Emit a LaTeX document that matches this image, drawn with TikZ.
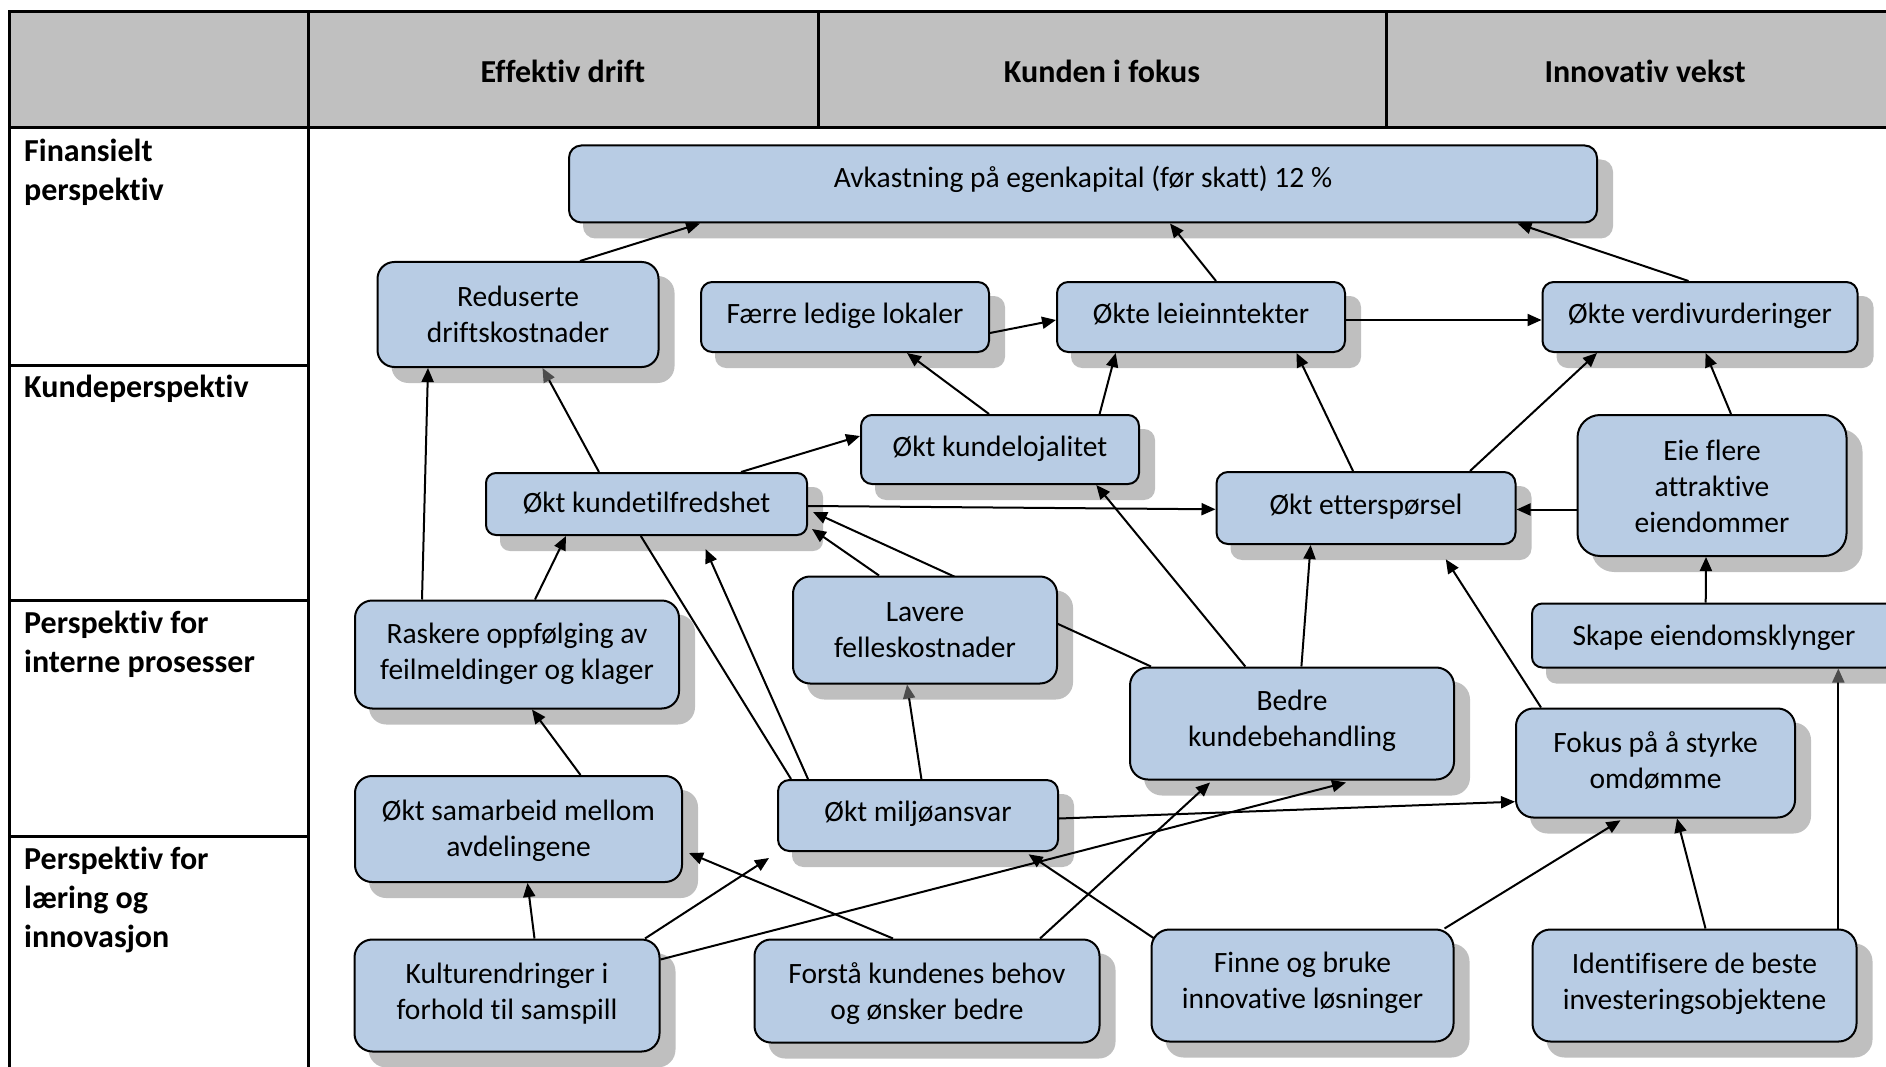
\documentclass[tikz,border=0pt]{standalone}
\usepackage{fontspec}
\setmainfont{Carlito}[Ligatures=NoCommon]
\usetikzlibrary{arrows.meta}

\definecolor{boxfill}{RGB}{184,204,228}
\definecolor{shadowc}{RGB}{191,191,191}
\definecolor{headfill}{RGB}{192,192,192}
\definecolor{tipgray}{RGB}{77,77,77}

\pgfdeclarelayer{background}
\pgfdeclarelayer{shadow}
\pgfdeclarelayer{edges}
\pgfsetlayers{background,shadow,edges,main}

% rounded box with its own offset shadow:
% [text drop], name, x, y, width, height, text
\newcommand\bx[7][0]{%
  \pgfmathsetmacro\rr{0.16*#6}%
  \pgfmathsetmacro\ty{-(#1)}%
  \node[box, minimum width=#5pt, minimum height=#6pt, rounded corners=\rr pt,
    label={[boxtext, yshift=\ty pt]center:{#7}}] (#2) at (#3,#4) {};
  \begin{pgfonlayer}{shadow}
    \fill[shadowc, rounded corners=\rr pt] ([shift={(15,15)}]#2.south west) rectangle ([shift={(15,15)}]#2.north east);
  \end{pgfonlayer}}

\begin{document}
\begin{tikzpicture}[x=1pt,y=-1pt,
  box/.style={draw=black, line width=2pt, fill=boxfill, inner sep=0pt},
  boxtext/.style={align=center, inner sep=0pt, font=\fontsize{29.5}{36}\selectfont,
    execute at begin node=\strut, execute at end node=\strut},
  arr/.style={line width=2pt, -{Triangle[length=14pt,width=12pt]}},
  garr/.style={line width=2pt, -{Triangle[length=14pt,width=12pt,color=tipgray]}},
  plainline/.style={line width=2pt},
  grid/.style={line width=3pt},
  headtxt/.style={font=\fontsize{32}{39}\selectfont\bfseries, inner sep=0pt},
  rowtxt/.style={font=\fontsize{32}{39}\selectfont\bfseries, align=left, anchor=north west, inner sep=0pt}]

\useasboundingbox (0,0) rectangle (1886,1067);

% table frame
\begin{pgfonlayer}{background}
  \fill[headfill] (9,12) rectangle (1904,128);
  \draw[grid] (1904,12) -- (9,12) -- (9,1080);
  \draw[grid] (9,128) -- (1904,128);
  \draw[grid] (308,12) -- (308,1080);
  \draw[grid] (818,12) -- (818,128);
  \draw[grid] (1386,12) -- (1386,128);
  \draw[grid] (9,365) -- (308,365);
  \draw[grid] (9,600) -- (308,600);
  \draw[grid] (9,836) -- (308,836);
\end{pgfonlayer}

% column and row headings
\node[headtxt] (hA) at (563,71) {Effektiv drift};
\node[headtxt] (hB) at (1102,71) {Kunden i fokus};
\node[headtxt] (hC) at (1645,71) {Innovativ vekst};
\node[rowtxt] (r1) at (24,139) {Finansielt\\perspektiv};
\node[rowtxt] (r2) at (24,375) {Kundeperspektiv};
\node[rowtxt] (r3) at (24,611) {Perspektiv for\\interne prosesser};
\node[rowtxt] (r4) at (24,847) {Perspektiv for\\læring og\\innovasjon};

% objectives
\bx[-4]{avk}{1083}{184}{1028}{77}{Avkastning på egenkapital (før skatt) 12 \%}
\bx[5]{red}{518}{314.5}{281}{105}{Reduserte\\driftskostnader}
\bx[-1]{faerre}{845}{317}{288}{70}{Færre ledige lokaler}
\bx[-1]{leie}{1201}{317}{288}{70}{Økte leieinntekter}
\bx[-1]{verdi}{1700}{317}{315}{70}{Økte verdivurderinger}
\bx{lojal}{1000}{449.5}{278}{69}{Økt kundelojalitet}
\bx[1]{tilfr}{646.5}{504}{321}{62}{Økt kundetilfredshet}
\bx[-1]{ettersp}{1366}{508}{299}{72}{Økt etterspørsel}
\bx[6]{eie}{1712}{485.5}{269}{141}{Eie flere\\attraktive\\eiendommer}
\bx[5]{lavere}{925}{630}{264}{107}{Lavere\\felleskostnader}
\bx[2.5]{rask}{517}{654.5}{324}{108}{Raskere oppfølging av\\feilmeldinger og klager}
\bx{bedre}{1292}{723.5}{324}{112}{Bedre\\kundebehandling}
\bx[2.5]{skape}{1714}{635.5}{364}{64}{Skape eiendomsklynger}
\bx[2.5]{fokus}{1655.5}{763}{279}{109}{Fokus på å styrke\\omdømme}
\bx[5]{samarb}{518.5}{829}{327}{106}{Økt samarbeid mellom\\avdelingene}
\bx[-1]{miljo}{918}{815.5}{280}{71}{Økt miljøansvar}
\bx[1]{kultur}{507}{995.5}{305}{112}{Kulturendringer i\\forhold til samspill}
\bx[5.5]{forsta}{927}{991}{345}{103}{Forstå kundenes behov\\og ønsker bedre}
\bx{finne}{1302.5}{985.5}{302}{112}{Finne og bruke\\innovative løsninger}
\bx[1]{ident}{1694.5}{985.5}{324}{112}{Identifisere de beste\\investeringsobjektene}

% cause-and-effect links
\begin{pgfonlayer}{edges}
  \draw[arr] ([shift={(62,0)}]red.north) -- ([shift={(-383,0)}]avk.south);
  \draw[arr] ([shift={(15,0)}]leie.north) -- ([shift={(87,0)}]avk.south);
  \draw[arr] ([shift={(-11.5,0)}]verdi.north) -- ([shift={(434.5,0)}]avk.south);
  \draw[arr] ([shift={(0,16)}]faerre.east) -- ([shift={(0,3)}]leie.west);
  \draw[arr] ([shift={(0,3)}]leie.east) -- ([shift={(0,3)}]verdi.west);
  \draw[arr] ([shift={(-11,0)}]lojal.north) -- ([shift={(62,0)}]faerre.south);
  \draw[arr] ([shift={(99.6,0)}]lojal.north) -- ([shift={(-85.3,0)}]leie.south);
  \draw[arr] ([shift={(-13,0)}]ettersp.north) -- ([shift={(95.5,0)}]leie.south);
  \draw[arr] ([shift={(104,0)}]ettersp.north) -- ([shift={(-103,0)}]verdi.south);
  \draw[arr] ([shift={(19,0)}]eie.north) -- ([shift={(5.6,0)}]verdi.south);
  \draw[arr] ([shift={(0,24)}]eie.west) -- ([shift={(0,1.5)}]ettersp.east);
  \draw[arr] ([shift={(94.5,0)}]tilfr.north) -- ([shift={(0,-13.5)}]lojal.west);
  \draw[garr] ([shift={(-47.5,0)}]tilfr.north) -- ([shift={(24.5,0)}]red.south);
  \draw[arr] ([shift={(0,2)}]tilfr.east) -- ([shift={(0,1.3)}]ettersp.west);
  \draw[arr] ([shift={(-95,0)}]rask.north) -- ([shift={(-90,0)}]red.south);
  \draw[arr] ([shift={(18,0)}]rask.north) -- ([shift={(-80.5,0)}]tilfr.south);
  \draw[arr] ([shift={(-46,0)}]lavere.north) -- ([shift={(4,25)}]tilfr.east);
  \draw[arr] ([shift={(-141,0)}]bedre.north) -- ([shift={(5,8)}]tilfr.east);
  \draw[arr] ([shift={(-110,0)}]miljo.north) -- ([shift={(59,13)}]tilfr.south);
  \draw[plainline] ([shift={(-5.7,0)}]tilfr.south) -- ([shift={(-127,0)}]miljo.north);
  \draw[garr] ([shift={(3.4,0)}]miljo.north) -- ([shift={(-18,0)}]lavere.south);
  \draw[arr] ([shift={(0,3)}]miljo.east) -- ([shift={(0,38.7)}]fokus.west);
  \draw[arr] ([shift={(62,0)}]samarb.north) -- ([shift={(15,0)}]rask.south);
  \draw[arr] ([shift={(27.5,0)}]kultur.north) -- ([shift={(9,0)}]samarb.south);
  \draw[arr] ([shift={(138,0)}]kultur.north) -- ([shift={(-8,6)}]miljo.south west);
  \draw[arr] ([shift={(0,-36)}]kultur.east) -- ([shift={(54,2)}]bedre.south);
  \draw[arr] ([shift={(-34,0)}]forsta.north) -- ([shift={(6,24)}]samarb.east);
  \draw[arr] ([shift={(113,0)}]forsta.north) -- ([shift={(-82,2)}]bedre.south);
  \draw[arr] ([shift={(4.5,10.5)}]finne.north west) -- ([shift={(110.6,2.3)}]miljo.south);
  \draw[arr] ([shift={(142,0)}]finne.north) -- ([shift={(-35,1.8)}]fokus.south);
  \draw[arr] ([shift={(11,0)}]ident.north) -- ([shift={(21.5,0)}]fokus.south);
  \draw[garr] ([shift={(143.8,0)}]ident.north) -- ([shift={(124.3,0)}]skape.south);
  \draw[arr] ([shift={(-8.3,0)}]skape.north) -- ([shift={(-6,0)}]eie.south);
  \draw[arr] ([shift={(-46.7,0)}]bedre.north) -- ([shift={(96.3,0)}]lojal.south);
  \draw[arr] ([shift={(9.4,0)}]bedre.north) -- ([shift={(-55.4,0)}]ettersp.south);
  \draw[arr] ([shift={(-114.5,0)}]fokus.north) -- ([shift={(79.8,14.3)}]ettersp.south);
\end{pgfonlayer}
\end{tikzpicture}
\end{document}
